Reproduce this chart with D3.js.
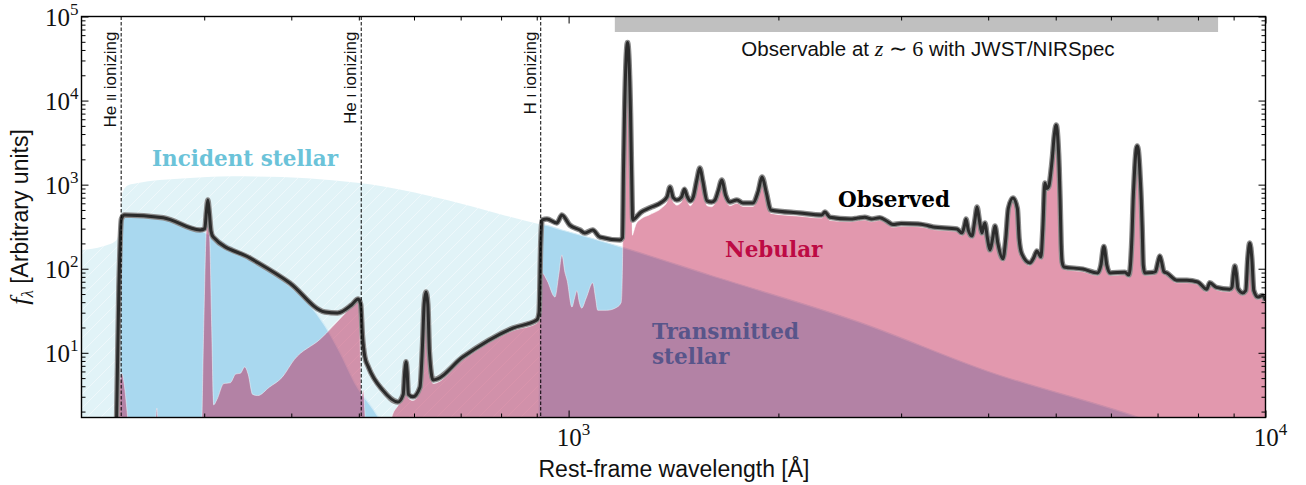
<!DOCTYPE html>
<html><head><meta charset="utf-8">
<script src="https://cdn.jsdelivr.net/npm/d3@7"></script>
<style>
body{margin:0;background:#fff;}
svg{display:block;}
</style></head><body>
<svg id="chart" width="1306" height="485"></svg>
<script>
// ---------------- DATA (wavelength in Å, flux in arbitrary units) ----------------
const incident = [[200,167],[215,185],[224,215],[227,300],[229,800],[233,980],[240,1040],[279,1180],[329,1260],[388,1230],[458,1130],[540,960],[669,657],[800,442],[912,335],[978,289],[1185,183],[1600,83],[2618,23],[4000,6.0],[6580,1.7],[10000,0.45]];

const transmitted = [[200,0.05],[226.8,0.05],[228.2,250],[230,430],[262,403],[296,285],[310,238],[349,132],[398,62],[424,38],[447,21],[470,10],[494,4.3],[527,2.0],[560,0.9],[600,0.3],[900,0.3],[910,30],[913,335],[978,289],[1185,183],[1600,83],[2618,23],[4000,6.0],[6580,1.7],[10000,0.45]];

const nebular = [[200,0.3],[223.5,0.3],[225.3,2.2],[227,4.6],[228.5,5.7],[230.3,4.2],[232.5,2.0],[235.5,0.6],[254,0.6],[256.5,2.2],[259,0.6],[296.5,0.6],[299.5,20],[301.8,250],[303.6,430],[305.4,250],[307.5,20],[309.5,2.4],[313,2.8],[320,4.3],[327,4.4],[333,5.6],[338,5.7],[343,6.8],[347,5.5],[352,3.2],[358,3.1],[372,3.9],[388,5.1],[404,8.3],[440,14.5],[478,29.5],[498,42],[501,42],[502.5,10],[504.5,3.0],[507.5,3.6],[510,2.0],[514,0.5],[553,0.5],[557.5,1.7],[569,2.35],[579,2.9],[582,5.6],[584.3,7.4],[586.5,5.6],[589,2.9],[598,2.7],[612,3.6],[617,11],[620.5,36],[624.3,50],[628,36],[631.5,9],[639,4.3],[705,8.2],[832,18.3],[900,22.5],[907,26],[912,70],[916,89],[931,73],[956,46],[968,85],[978,146],[988,90],[995,73],[1011,35],[1020,45],[1028,55],[1036,40],[1044,34],[1060,45],[1083,68],[1093,45],[1101,32],[1134,32],[1174,35],[1190,40],[1195,120],[1199,1400],[1203,7000],[1209,29500],[1215,48500],[1221,29500],[1227,7000],[1231,1300],[1235,250],[1238,265],[1250,340],[1270,390],[1308,440],[1361,530],[1385,630],[1398,860],[1413,620],[1430,570],[1452,620],[1466,800],[1480,640],[1495,560],[1510,640],[1528,1080],[1543,1480],[1558,1020],[1580,560],[1604,545],[1622,600],[1640,780],[1659,1060],[1680,680],[1704,560],[1744,600],[1779,550],[1839,550],[1870,750],[1895,1150],[1922,730],[1950,455],[2147,420],[2309,400],[2332,435],[2371,375],[2534,362],[2600,372],[2661,380],[2720,362],[2796,376],[2860,344],[2920,311],[3000,320],[3171,316],[3250,307],[3332,292],[3608,276],[3668,247],[3700,307],[3717,363],[3745,270],[3791,228],[3828,353],[3855,504],[3885,353],[3919,247],[3940,298],[3958,325],[3990,214],[4024,155],[4060,214],[4091,300],[4130,186],[4200,122],[4240,214],[4275,484],[4341,645],[4405,484],[4430,214],[4470,140],[4592,109],[4650,126],[4699,152],[4730,140],[4761,128],[4792,279],[4824,974],[4856,837],[4888,893],[4920,1302],[4945,1953],[4974,3441],[5008,4768],[5040,2837],[5057,1508],[5073,611],[5090,186],[5107,112],[5136,98],[5469,92],[5747,83],[5805,102],[5862,171],[5920,102],[5979,83],[6284,85],[6368,78],[6437,260],[6458,611],[6480,1097],[6502,1804],[6523,2446],[6545,2682],[6567,2446],[6589,1804],[6611,1097],[6633,611],[6655,260],[6677,102],[6712,83],[6880,84],[6950,86],[7010,112],[7052,132],[7095,112],[7150,86],[7218,83],[7460,68],[7711,68],[7995,65],[8236,53],[8318,63],[8500,56],[8887,53],[8950,56],[9000,84],[9036,100],[9075,84],[9130,54],[9276,48],[9370,51],[9430,121],[9494,188],[9560,121],[9620,51],[9749,43],[9900,45],[10000,39]];

const observed = [[224,0.5],[226.3,60],[228.2,390],[230.5,436],[262,405],[296,289],[300.6,300],[302.2,480],[303.6,657],[305,480],[306.8,280],[309,238],[349,134],[398,67.7],[447,30.6],[466,29.8],[488,37],[499,43.6],[503,38],[506,16],[510,9],[516,6.8],[541,3.6],[569,2.6],[579,3.2],[582,6],[584.3,7.8],[586.5,6],[589,3.2],[598,3.0],[612,3.9],[617,12],[620.5,38],[624.3,52.9],[628,38],[631.5,10],[639,4.75],[705,8.9],[832,19.7],[900,24.5],[907,30],[912,200],[916,380],[931,390],[962,350],[978,436],[1004,330],[1038,289],[1055,266],[1083,289],[1109,238],[1185,220],[1195,235],[1199,1580],[1203,7200],[1209,30000],[1215,49000],[1221,30000],[1227,7200],[1231,1580],[1236,380],[1240,385],[1270,470],[1308,531],[1361,622],[1385,720],[1398,938],[1413,700],[1430,657],[1452,710],[1466,880],[1480,720],[1495,640],[1510,720],[1528,1150],[1543,1579],[1558,1100],[1580,640],[1604,620],[1622,657],[1640,850],[1659,1136],[1680,750],[1704,622],[1744,657],[1779,605],[1839,605],[1870,820],[1895,1230],[1922,800],[1950,500],[2147,460],[2309,436],[2332,473],[2371,410],[2534,390],[2600,400],[2661,410],[2720,390],[2796,405],[2860,370],[2920,335],[3000,345],[3171,340],[3250,330],[3332,314],[3608,297],[3668,266],[3700,330],[3717,390],[3745,290],[3791,245],[3828,380],[3855,542],[3885,380],[3919,266],[3940,320],[3958,350],[3990,230],[4024,167],[4060,230],[4091,322],[4130,200],[4200,131],[4240,230],[4275,520],[4341,694],[4405,520],[4430,230],[4470,150],[4592,117],[4650,135],[4699,163],[4730,150],[4761,138],[4792,300],[4824,1047],[4856,900],[4888,960],[4920,1400],[4945,2100],[4974,3700],[5008,5127],[5040,3050],[5057,1622],[5073,657],[5090,200],[5107,120],[5136,105],[5469,99],[5747,89],[5805,110],[5862,184],[5920,110],[5979,89],[6284,91],[6368,84],[6437,280],[6458,657],[6480,1180],[6502,1940],[6523,2630],[6545,2884],[6567,2630],[6589,1940],[6611,1180],[6633,657],[6655,280],[6677,110],[6712,89],[6880,90],[6950,92],[7010,120],[7052,142],[7095,120],[7150,92],[7218,89],[7460,73],[7711,73],[7995,69.5],[8236,57],[8318,68],[8500,60],[8887,57],[8950,60],[9000,90],[9036,108],[9075,90],[9130,58],[9276,51.5],[9370,55],[9430,130],[9494,202],[9560,130],[9620,55],[9749,46],[9900,48],[10000,42]];

const ionizingEdges = [228, 504, 912];
const edgeNames = [["He ","II"," ionizing"],["He ","I"," ionizing"],["H ","I"," ionizing"]];
const observableRange = [1165, 8550];
const xDomain = [200, 10000];
const yDomain = [1.7, 1e5];
const xMajorTicks = [1000, 10000];
const xMinorTicks = [300,400,500,600,700,800,900,2000,3000,4000,5000,6000,7000,8000,9000];
const yMajorTicks = [10, 100, 1000, 10000, 100000];
const yMinorTicks = [2,3,4,5,6,7,8,9,20,30,40,50,60,70,80,90,200,300,400,500,600,700,800,900,2000,3000,4000,5000,6000,7000,8000,9000,20000,30000,40000,50000,60000,70000,80000,90000];

// ---------------- LAYOUT ----------------
const L = 81.5, R = 1265.5, T = 16.5, B = 417.5;
const svg = d3.select("#chart");
const x = d3.scaleLog().domain(xDomain).range([L, R]);
const y = d3.scaleLog().domain(yDomain).range([B, T]);

const defs = svg.append("defs");
defs.append("clipPath").attr("id","clip").append("rect")
  .attr("x",L).attr("y",T).attr("width",R-L).attr("height",B-T);
const pat = defs.append("pattern").attr("id","hatch").attr("patternUnits","userSpaceOnUse")
  .attr("width",14).attr("height",14);
pat.append("path").attr("d","M-3.5,3.5 L3.5,-3.5 M0,14 L14,0 M10.5,17.5 L17.5,10.5")
  .attr("stroke","#fff").attr("stroke-width",0.9).attr("stroke-opacity",0.5);

const safe = v => Math.max(v, 0.01);
const area = d3.area().x(d => x(d[0])).y0(B + 5).y1(d => y(safe(d[1]))).curve(d3.curveMonotoneX);
const line = d3.line().x(d => x(d[0])).y(d => y(safe(d[1]))).curve(d3.curveMonotoneX);

const plot = svg.append("g").attr("clip-path","url(#clip)");

// incident stellar
plot.append("path").datum(incident).attr("d",area).attr("fill","#6bc3d9").attr("fill-opacity",0.2);
plot.append("path").datum(incident).attr("d",area).attr("fill","url(#hatch)");
// transmitted stellar
plot.append("path").datum(transmitted).attr("d",area).attr("fill","#a9d8ef");
plot.append("path").datum(transmitted).attr("d",line).attr("fill","none").attr("stroke","#d2ebf6").attr("stroke-width",1.2);
// nebular
plot.append("path").datum(nebular).attr("d",area).attr("fill","#bf1a4b").attr("fill-opacity",0.45);
plot.append("path").datum(nebular).attr("d",line).attr("fill","none").attr("stroke","#fff").attr("stroke-opacity",0.45).attr("stroke-width",1);

// ionizing edges
ionizingEdges.forEach((w,i) => {
  svg.append("line").attr("x1",x(w)).attr("x2",x(w)).attr("y1",T).attr("y2",B)
    .attr("stroke","#000").attr("stroke-width",1).attr("stroke-dasharray","3.5,2");
  const t = svg.append("text").attr("transform",`translate(${x(w)-5},${T+15}) rotate(-90)`)
    .attr("text-anchor","end").attr("font-family","Liberation Sans, Arial, sans-serif").attr("font-size",17).attr("fill","#111");
  t.append("tspan").text(edgeNames[i][0]);
  t.append("tspan").attr("font-size",13).text(edgeNames[i][1]);
  t.append("tspan").text(edgeNames[i][2]);
});

// observed
plot.append("path").datum(observed).attr("d",line).attr("fill","none").attr("stroke","#8a8a8a").attr("stroke-width",5.5).attr("stroke-linejoin","round");
plot.append("path").datum(observed).attr("d",line).attr("fill","none").attr("stroke","#2b2b2b").attr("stroke-width",3).attr("stroke-linejoin","round");

// observable band
svg.append("rect").attr("x",x(observableRange[0])).attr("width",x(observableRange[1])-x(observableRange[0]))
  .attr("y",T+0.5).attr("height",15).attr("fill","#c0c0c0");
const ot = svg.append("text").attr("x",928).attr("y",56).attr("text-anchor","middle")
  .attr("font-family","Liberation Sans, Arial, sans-serif").attr("font-size",20.5).attr("fill","#111");
ot.append("tspan").text("Observable at ");
ot.append("tspan").attr("font-family","Liberation Serif, serif").attr("font-style","italic").attr("font-size",22).text("z");
ot.append("tspan").attr("font-family","Liberation Serif, serif").attr("font-size",22).text(" ∼ 6");
ot.append("tspan").text(" with JWST/NIRSpec");

// component labels
const lab = (txt, xx, yy, col) => svg.append("text").attr("x",xx).attr("y",yy)
  .attr("font-family","DejaVu Serif, serif").attr("font-weight","bold").attr("font-size",21.5).attr("fill",col).text(txt);
lab("Incident stellar",152,166,"#6bc3d9");
lab("Nebular",725,257,"#bd0a44");
lab("Transmitted",652,339,"#58558a");
lab("stellar",652,364,"#58558a");
lab("Observed",838,207,"#000");

// frame
svg.append("rect").attr("x",L).attr("y",T).attr("width",R-L).attr("height",B-T)
  .attr("fill","none").attr("stroke","#000").attr("stroke-width",1.4);

// ticks
function ticks(axisGen, transform, vals, size){
  const g = svg.append("g").attr("transform",transform)
    .call(axisGen.tickValues(vals).tickSize(-size).tickFormat(""));
  g.select(".domain").remove();
  g.selectAll(".tick line").attr("stroke","#000").attr("stroke-width",1);
}
ticks(d3.axisBottom(x), `translate(0,${B})`, xMajorTicks, 7);
ticks(d3.axisBottom(x), `translate(0,${B})`, xMinorTicks, 4);
ticks(d3.axisTop(x), `translate(0,${T})`, xMajorTicks, 7);
ticks(d3.axisTop(x), `translate(0,${T})`, xMinorTicks, 4);
ticks(d3.axisLeft(y), `translate(${L},0)`, yMajorTicks, 7);
ticks(d3.axisLeft(y), `translate(${L},0)`, yMinorTicks.filter(v=>v>yDomain[0]), 4);
ticks(d3.axisRight(y), `translate(${R},0)`, yMajorTicks, 7);
ticks(d3.axisRight(y), `translate(${R},0)`, yMinorTicks.filter(v=>v>yDomain[0]), 4);

// tick labels
const pow = (v, xx, yy, anchor) => {
  const t = svg.append("text").attr("x",xx).attr("y",yy).attr("text-anchor",anchor)
    .attr("font-family","Liberation Serif, serif").attr("font-size",25).attr("fill","#111");
  t.append("tspan").text("10");
  t.append("tspan").attr("font-size",17).attr("dy",-11).text(Math.round(Math.log10(v)));
};
yMajorTicks.forEach(v => pow(v, L-3, y(v)+9, "end"));
xMajorTicks.forEach(v => pow(v, x(v)+5, B+28, "middle"));

// axis titles
svg.append("text").attr("x",674).attr("y",477).attr("text-anchor","middle")
  .attr("font-family","Liberation Sans, Arial, sans-serif").attr("font-size",23).attr("fill","#111")
  .text("Rest-frame wavelength [Å]");
const yl = svg.append("text").attr("transform",`translate(28,${(T+B)/2}) rotate(-90)`).attr("text-anchor","middle")
  .attr("font-family","Liberation Sans, Arial, sans-serif").attr("font-size",23).attr("fill","#111");
yl.append("tspan").attr("font-family","Liberation Serif, serif").attr("font-style","italic").attr("font-size",26).text("f");
yl.append("tspan").attr("font-family","Liberation Serif, serif").attr("font-style","italic").attr("font-size",17).attr("dy",5).text("λ");
yl.append("tspan").attr("dy",-5).text(" [Arbitrary units]");
</script>
</body></html>
